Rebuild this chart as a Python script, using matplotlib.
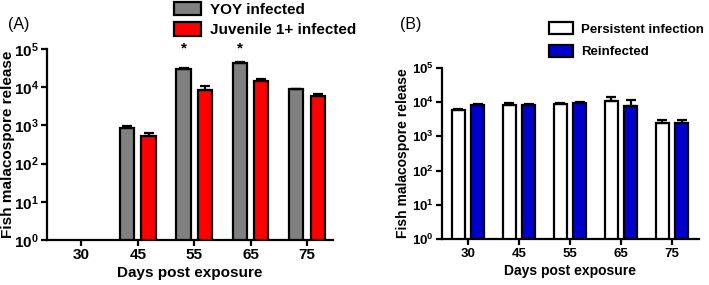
import numpy as np
import matplotlib
matplotlib.use('Agg')
import matplotlib.pyplot as plt
from matplotlib.patches import Patch

plt.rcParams['font.family'] = ['Liberation Sans', 'DejaVu Sans']
plt.rcParams['font.weight'] = 'bold'
plt.rcParams['mathtext.fontset'] = 'custom'
plt.rcParams['mathtext.rm'] = 'Liberation Sans:bold'
plt.rcParams['mathtext.bf'] = 'Liberation Sans:bold'

days = ['30', '45', '55', '65', '75']

# panel A
yoy = [np.nan, 880, 29500, 42000, 8800]
yoy_err = [0, 60, 1500, 5000, 400]
juv = [np.nan, 530, 8500, 14800, 6000]
juv_err = [0, 110, 2200, 1900, 500]
stars = ['', '', '*', '*', '']

# panel B
persist = [5900, 8300, 8500, 10700, 2500]
persist_err = [300, 900, 900, 3100, 500]
reinf = [8200, 8300, 9600, 7700, 2500]
reinf_err = [700, 700, 700, 3800, 400]

LW = 1.6

fig = plt.figure(figsize=(7.09, 2.85), dpi=100)


def style_axes(ax, tick_fs, label_fs, ylab_x):
    ax.set_yscale('log')
    ax.set_ylim(1, 1e5)
    ax.set_yticks([1, 10, 100, 1e3, 1e4, 1e5])
    ax.minorticks_off()
    ax.spines['top'].set_visible(False)
    ax.spines['right'].set_visible(False)
    for s in ['left', 'bottom']:
        ax.spines[s].set_linewidth(LW)
    ax.tick_params(width=LW, length=4, labelsize=tick_fs, pad=2)
    ax.set_xticks(range(len(days)))
    ax.set_xticklabels(days)
    ax.set_xlabel('Days post exposure', fontsize=label_fs, fontweight='bold', labelpad=3)
    ax.set_ylabel('Fish malacospore release', fontsize=label_fs, fontweight='bold', va='center')
    ax.yaxis.set_label_coords(ylab_x, 0.5)


def bars(ax, vals, errs, off, color):
    x = np.arange(len(days)) + off
    v = np.array(vals, dtype=float)
    ok = ~np.isnan(v)
    ax.bar(x[ok], v[ok], width=0.25, color=color, edgecolor='black', linewidth=LW, zorder=2)
    e = np.array(errs, dtype=float)[ok]
    ax.errorbar(x[ok], v[ok], yerr=[np.zeros_like(e), e], fmt='none', ecolor='black',
                elinewidth=LW, capsize=3.5, capthick=LW, zorder=3)


# (A)
axA = fig.add_axes([47/709, 45/285, 286/709, 191/285])
style_axes(axA, 11, 11, -0.135)
axA.set_xlim(-0.61, 4.46)
bars(axA, yoy, yoy_err, -0.19, '#808080')
bars(axA, juv, juv_err, 0.19, '#ff0000')
for i, s in enumerate(stars):
    if s:
        axA.text(i - 0.19, 1.05e5, s, ha='center', va='center', fontsize=11, clip_on=False)
axA.legend(handles=[Patch(facecolor='#808080', edgecolor='black', linewidth=LW, label='YOY infected'),
                    Patch(facecolor='#ff0000', edgecolor='black', linewidth=LW, label='Juvenile 1+ infected')],
           loc='upper left', bbox_to_anchor=(172/709, 1.0), bbox_transform=fig.transFigure,
           frameon=False, fontsize=11, handlelength=1.8, handleheight=1.0, handletextpad=0.6,
           labelspacing=0.35, borderpad=0.1, borderaxespad=0)
fig.text(8/709, 1 - 25/285, '(A)', fontsize=11.5, fontweight='normal', va='center', ha='left')

# (B)
axB = fig.add_axes([442/709, 45.7/285, 257/709, 171.6/285])
style_axes(axB, 9.5, 10, -0.15)
axB.set_xlim(-0.51, 4.53)
bars(axB, persist, persist_err, -0.19, 'white')
bars(axB, reinf, reinf_err, 0.19, '#0000cc')
axB.legend(handles=[Patch(facecolor='white', edgecolor='black', linewidth=LW, label='Persistent infection'),
                    Patch(facecolor='#0000cc', edgecolor='black', linewidth=LW, label='Reinfected')],
           loc='upper left', bbox_to_anchor=(548/709, 1 - 21/285), bbox_transform=fig.transFigure,
           frameon=False, fontsize=9.5, handlelength=1.8, handleheight=1.0, handletextpad=0.6,
           labelspacing=0.7, borderpad=0.1, borderaxespad=0)
fig.text(400/709, 1 - 25/285, '(B)', fontsize=11.5, fontweight='normal', va='center', ha='left')

fig.savefig('out.png', dpi=100)
